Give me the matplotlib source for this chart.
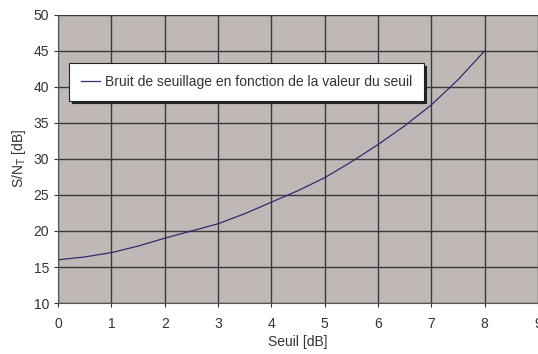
import numpy as np
import matplotlib
matplotlib.use('Agg')
import matplotlib.pyplot as plt

plt.rcParams['font.family'] = ['Liberation Sans', 'DejaVu Sans']

seuil = [0, 0.5, 1, 1.5, 2, 2.5, 3, 3.5, 4, 4.5, 5, 5.5, 6, 6.5, 7, 7.5, 8]
snr = [16.0, 16.4, 17.0, 17.9, 19.0, 20.0, 21.0, 22.4, 24.0, 25.6, 27.4,
       29.6, 32.0, 34.6, 37.5, 41.0, 45.0]

fig = plt.figure(figsize=(5.38, 3.54), dpi=100)
ax = fig.add_axes([0.108, 0.144, 0.892, 0.814])
ax.set_facecolor('#c0b8b6')

ax.plot(seuil, snr, '-', color='#2e2e6e', lw=0.9,
        label='Bruit de seuillage en fonction de la valeur du seuil')

ax.set_xlim(0, 9)
ax.set_ylim(10, 50)
ax.set_xticks(np.arange(0, 10, 1))
ax.set_yticks(np.arange(10, 55, 5))
ax.grid(True, color='#3a3a3a', lw=1.0)
ax.set_axisbelow(True)
ax.tick_params(labelsize=10, colors='#333333', length=3, width=0.8)
ax.tick_params(axis='x', pad=7)
for s in ['top', 'right']:
    ax.spines[s].set_visible(False)
for s in ['left', 'bottom']:
    ax.spines[s].set_color('#555555')

ax.set_xlabel('Seuil [dB]', fontsize=10, color='#333333', labelpad=3)
ax.set_ylabel(r'S/N$_\mathrm{T}$ [dB]', fontsize=10, color='#333333', labelpad=4)

# legend box with a hard dark drop shadow
leg = ax.legend(loc='upper left', bbox_to_anchor=(0.023, 0.833), fontsize=10,
                frameon=True, fancybox=False,
                shadow={'color': '#222222', 'alpha': 1.0, 'ox': 2, 'oy': -2},
                handlelength=1.4, handletextpad=0.3, borderpad=0.85,
                borderaxespad=0)
leg.get_frame().set_edgecolor('#222222')
leg.get_frame().set_linewidth(0.8)
leg.get_frame().set_facecolor('white')
for t in leg.get_texts():
    t.set_color('#333333')

fig.savefig('out.png', dpi=100)
